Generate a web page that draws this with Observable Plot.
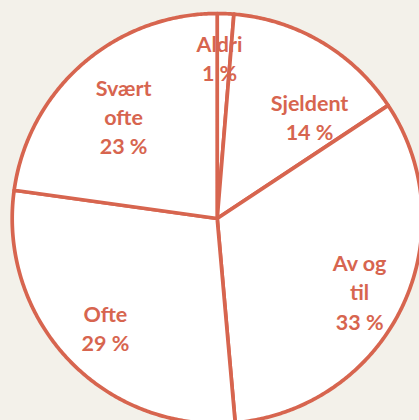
<!DOCTYPE html>
<html><head><meta charset="utf-8">
<script src="https://cdn.jsdelivr.net/npm/d3@7"></script>
<script src="https://cdn.jsdelivr.net/npm/@observablehq/plot@0.6"></script>
<style>html,body{margin:0;padding:0;background:#f3f1ea;overflow:hidden}</style>
</head><body><div id="chart"></div>
<script>
const categories = ["Aldri", "Sjeldent", "Av og til", "Ofte", "Svært ofte"];
const labelNames = ["Aldri", "Sjeldent", "Av og\ntil", "Ofte", "Svært\nofte"];
const values = [1.3, 14.4, 32.9, 28.6, 22.8];
const percentLabels = ["1 %", "14 %", "33 %", "29 %", "23 %"];
// label placement tweaks: angle shift (deg) from mid-angle, radius as fraction of pie radius
const labelAngleShift = [-1.5, 11.4, 1.3, -0.6, -1.3];
const labelRadius = [0.785, 0.673, 0.78, 0.76, 0.678];

const W = 419, H = 420, cx = 216.7, cy = 218, R = 205;
const color = "#d7654f";

const arcs = d3.pie().sort(null).value(d => d)(values);
const slices = [];
const labels = [];
arcs.forEach((p, i) => {
  const n = Math.max(2, Math.ceil((p.endAngle - p.startAngle) / (Math.PI / 360)));
  slices.push({cat: categories[i], x: 0, y: 0});
  for (let k = 0; k <= n; k++) {
    const a = p.startAngle + (p.endAngle - p.startAngle) * k / n;
    slices.push({cat: categories[i], x: Math.sin(a), y: Math.cos(a)});
  }
  slices.push({cat: categories[i], x: 0, y: 0});
  const am = (p.startAngle + p.endAngle) / 2 + labelAngleShift[i] * Math.PI / 180;
  labels.push({
    x: labelRadius[i] * Math.sin(am),
    y: labelRadius[i] * Math.cos(am),
    text: labelNames[i] + "\n" + percentLabels[i]
  });
});

const chart = Plot.plot({
  width: W, height: H,
  margin: 0,
  style: {background: "#f3f1ea", overflow: "hidden"},
  x: {domain: [(0 - cx) / R, (W - cx) / R], range: [0, W], axis: null},
  y: {domain: [(cy - H) / R, cy / R], range: [H, 0], axis: null},
  marks: [
    Plot.line(slices, {x: "x", y: "y", z: "cat", fill: "white", stroke: color, strokeWidth: 3.7, strokeLinejoin: "round"}),
    Plot.text(labels, {x: "x", y: "y", text: "text", fill: color, fontSize: 21.5, fontWeight: "bold", fontFamily: "Lato", lineHeight: 1.35})
  ]
});
document.getElementById("chart").appendChild(chart);
</script>
</body></html>
